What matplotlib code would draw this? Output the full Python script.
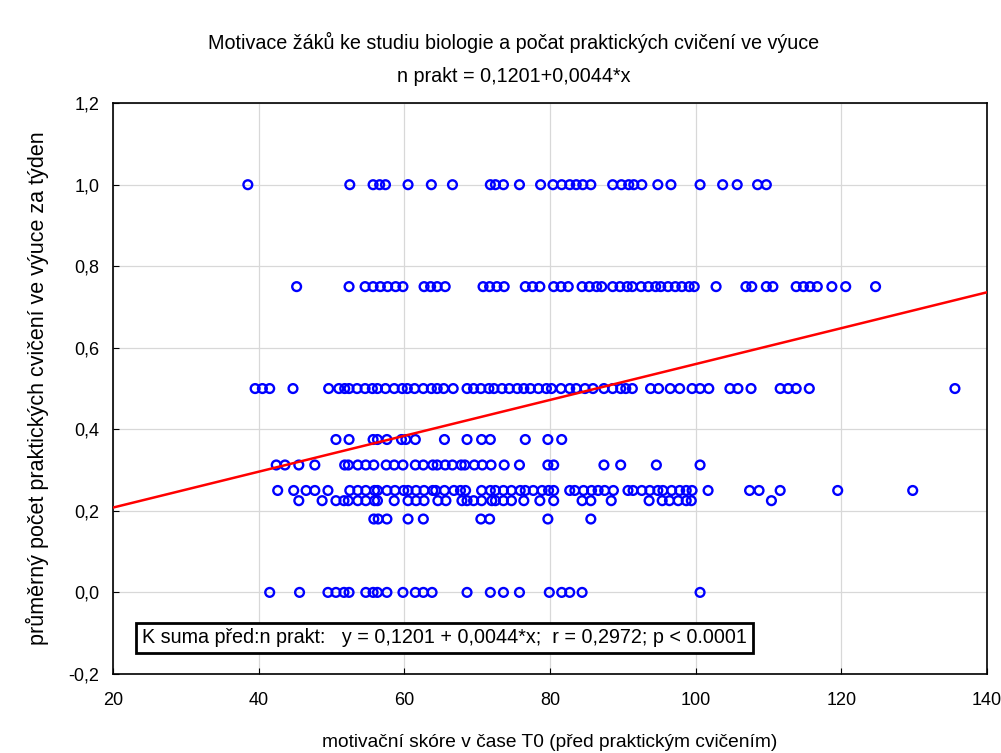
import matplotlib
matplotlib.use("Agg")
import matplotlib.pyplot as plt
from matplotlib.ticker import FuncFormatter

plt.rcParams['font.family'] = ['Liberation Sans', 'DejaVu Sans']

# motivation score (x) for each level of practicals per week (y)
x_100 = [38.5, 52.5, 55.7, 56.6, 57.4, 60.5, 63.7, 66.6, 71.8, 72.5, 73.6, 75.8, 78.7,
         80.4, 81.6, 82.7, 83.6, 84.5, 85.6, 88.6, 89.8, 90.8, 91.5, 92.6, 94.8, 96.6,
         100.6, 103.7, 105.7, 108.5, 109.7]
x_075 = [45.2, 52.4, 54.6, 55.7, 56.7, 57.7, 58.8, 59.8, 62.7, 63.6, 64.5, 65.6, 70.8,
         71.7, 72.7, 73.7, 76.6, 77.6, 78.6, 80.5, 81.5, 82.5, 84.4, 85.4, 86.4, 87.1,
         88.6, 89.6, 90.6, 91.3, 92.5, 93.5, 94.5, 95.2, 96.2, 97.2, 98.1, 99.1, 99.8,
         102.8, 106.9, 107.7, 109.7, 110.6, 113.8, 114.8, 115.7, 116.7, 118.7, 120.6, 124.7]
x_050 = [39.5, 40.5, 41.5, 44.7, 49.6, 51.0, 51.8, 52.4, 53.5, 54.6, 55.6, 56.3, 57.4,
         58.6, 59.7, 60.4, 61.4, 62.6, 63.7, 64.5, 65.4, 66.7, 68.6, 69.5, 70.5, 71.6,
         72.3, 73.4, 74.4, 75.5, 76.4, 77.3, 78.4, 79.5, 80.2, 81.5, 82.7, 83.6, 84.8,
         85.9, 87.4, 88.6, 89.7, 90.4, 91.3, 93.8, 94.9, 96.5, 97.8, 99.5, 100.6, 101.8,
         104.7, 105.8, 107.6, 111.6, 112.7, 113.8, 115.6, 135.6]
x_0375 = [50.6, 52.4, 55.7, 56.3, 57.6, 59.6, 60.2, 61.5, 65.5, 68.6, 70.6, 71.8, 76.6,
          79.7, 81.6]
x_03125 = [42.4, 43.6, 45.5, 47.7, 51.8, 52.3, 53.6, 54.7, 55.8, 57.5, 58.6, 59.8, 61.5,
           62.6, 63.9, 64.5, 65.6, 66.6, 67.8, 68.3, 69.6, 70.7, 71.9, 73.7, 75.8, 79.7,
           80.5, 87.4, 89.7, 94.6, 100.6]
x_025 = [42.6, 44.8, 46.5, 47.7, 49.5, 52.5, 53.6, 54.7, 55.9, 56.3, 57.6, 58.7, 59.9,
         60.5, 61.6, 62.7, 63.9, 64.3, 65.5, 66.8, 67.7, 68.4, 70.6, 71.8, 72.5, 73.6,
         74.7, 75.9, 76.6, 77.7, 78.9, 79.8, 80.5, 82.7, 83.4, 84.6, 85.7, 86.6, 87.5,
         88.7, 90.7, 91.4, 92.6, 93.7, 94.8, 95.5, 96.7, 97.8, 98.7, 99.5, 101.7, 107.4,
         108.7, 111.6, 119.5, 129.8]
x_0225 = [45.5, 48.7, 50.6, 51.7, 52.3, 53.6, 54.7, 55.9, 56.3, 58.6, 60.5, 61.6, 62.7,
          64.6, 65.7, 67.9, 68.6, 69.5, 70.6, 72.0, 72.5, 73.6, 74.7, 76.4, 78.6, 80.5,
          84.4, 85.6, 88.4, 93.6, 95.4, 96.4, 97.6, 98.7, 99.4, 110.4]
x_018 = [55.8, 56.4, 57.6, 60.5, 62.6, 70.5, 71.7, 79.7, 85.6]
x_000 = [41.5, 45.6, 49.5, 50.6, 51.7, 52.4, 54.7, 55.7, 56.3, 57.6, 59.8, 61.5, 62.6,
         63.8, 68.6, 71.8, 73.6, 75.8, 79.9, 81.6, 82.7, 84.4, 100.6]

levels = [1.0, 0.75, 0.5, 0.375, 0.3125, 0.25, 0.225, 0.18, 0.0]
groups = [x_100, x_075, x_050, x_0375, x_03125, x_025, x_0225, x_018, x_000]

intercept = 0.1201
slope = 0.0044

fig = plt.figure(figsize=(10.01, 7.53), dpi=100)
ax = fig.add_axes([0.113, 0.105, 0.873, 0.758])

for lev, xs in zip(levels, groups):
    ax.scatter(xs, [lev] * len(xs), s=40, facecolors='none', edgecolors='#0000ff',
               linewidths=1.7, zorder=3)

line_x = [20, 140]
ax.plot(line_x, [intercept + slope * v for v in line_x], color='#ff0000', linewidth=1.8, zorder=4)

ax.set_xlim(20, 140)
ax.set_ylim(-0.2, 1.2)
ax.set_xticks(range(20, 141, 20))
ax.set_yticks([-0.2, 0.0, 0.2, 0.4, 0.6, 0.8, 1.0, 1.2])
ax.yaxis.set_major_formatter(FuncFormatter(lambda v, p: f"{v:.1f}".replace('.', ',')))
ax.grid(True, color='#d8d8d8', linewidth=0.9, zorder=0)
ax.tick_params(direction='in', length=4, labelsize=13)
ax.tick_params(axis='x', pad=13)
ax.tick_params(axis='y', pad=10)
for s in ax.spines.values():
    s.set_linewidth(1.2)

ax.set_xlabel("motivační skóre v čase T0 (před praktickým cvičením)", fontsize=13.8, labelpad=18)
ax.set_ylabel("průměrný počet praktických cvičení ve výuce za týden", fontsize=15.5, labelpad=14)

fig.text(0.513, 0.944, "Motivace žáků ke studiu biologie a počat praktických cvičení ve výuce",
         ha='center', va='center', fontsize=14.2)
fig.text(0.513, 0.899, "n prakt = 0,1201+0,0044*x", ha='center', va='center', fontsize=14.2)

ax.text(0.033, 0.063,
        "K suma před:n prakt:   y = 0,1201 + 0,0044*x;  r = 0,2972; p < 0.0001",
        transform=ax.transAxes, fontsize=14.2, va='center', ha='left', zorder=5,
        bbox=dict(boxstyle='square,pad=0.3', facecolor='white', edgecolor='black', linewidth=2))

fig.savefig("out.png", dpi=100)
